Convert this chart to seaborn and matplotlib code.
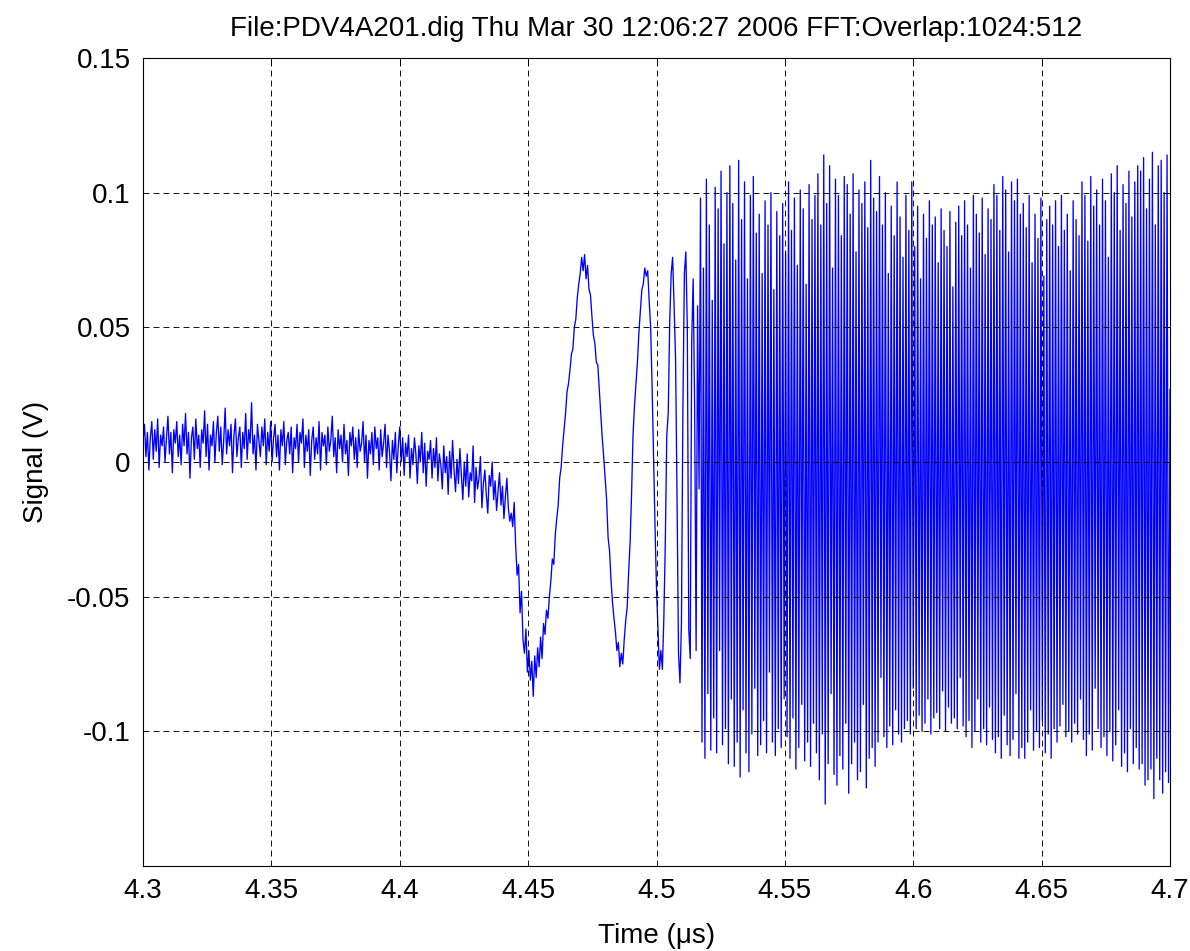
import numpy as np
import pandas as pd
import matplotlib
matplotlib.use("Agg")
import matplotlib.pyplot as plt
import seaborn as sns

# Digitizer record, values in millivolts, evenly sampled from 4.3 to 4.7 us
t_start, t_stop = 4.3, 4.7

# quiet baseline before the shock arrives
baseline_mv = [
    8, 14, 2, 11, -3, 9, 15, 1, 12, 4,
    16, -2, 10, 6, 13, 0, 9, 17, 3, 11,
    -4, 12, 7, 15, 2, 10, -1, 14, 6, 18,
    3, 11, -6, 9, 13, 1, 16, 5, 10, -2,
    12, 7, 19, 2, 14, -3, 10, 6, 15, 0,
    11, 17, 4, 13, -1, 8, 20, 3, 12, 6,
    14, -4, 10, 16, 2, 9, 13, -2, 11, 5,
    18, 1, 12, 7, 22, 3, 10, -3, 14, 8,
    2, 13, 6, 16, -1, 11, 4, 15, 0, 9,
    14, 2, 10, -3, 12, 6, 15, -1, 8, 11,
    3, 13, -4, 9, 5, 14, 0, 11, 7, 16,
    -2, 10, 4, 12, -5, 8, 13, 1, 9, 3,
    15, -3, 11, 6, 10, -1, 13, 4, 8, 17,
    2, 9, -4, 12, 5, 10, 0, 14, 3, 8,
    -5, 11, 6, 13, 1, 9, -2, 12, 4, 7,
    15, 0, 10, -6, 8, 3, 11, -1, 13, 5,
    9, -3, 12, 2, 7, 14, -2, 10, 4, -7,
    8, 1, 11, -4, 6, 13, 0, 9, -5, 7,
    2, 10, -6, 5, -1, 9, 3, -8, 6, 0,
    11, -4, 7, -9, 4, 1, 8, -6, 5, -2,
    9, -7, 3, -1, -10, 6, -4, 2, -12, 4,
    -6, 8, -3, -11, 1, -8, 5, -5, -14, 0,
    -9, 3, -13, -4, -7, 6, -15, -2, -10, -6,
    2, -17, -8, -3, -12, -19, -5, -9, 0, -14,
    -7, -18, -11, -4, -16, -9, -21, -13, -6, -17,
    -22,
]

# first slow fringes after breakout
onset_mv = [
    -19, -24, -15, -31, -42, -38, -56, -48, -66, -71,
    -62, -78, -70, -81, -74, -87, -72, -80, -69, -76,
    -65, -73, -60, -64, -55, -58, -50, -44, -36, -38,
    -27, -21, -16, -6, -2, 6, 12, 18, 26, 29,
    34, 40, 42, 50, 53, 61, 66, 70, 76, 71,
    77, 68, 73, 64, 62, 54, 47, 44, 37, 36,
    27, 18, 9, 2, -6, -14, -28, -33, -44, -52,
    -58, -63, -70, -67, -76, -71, -75, -66, -59, -54,
    -41, -30, -12, 10, 21, 29, 37, 48, 56, 64,
    66, 72, 69, 71, 60, 50, 28, 2, -24, -47,
    -62, -77, -70, -77, -58, -30, 10, 18, 52, 70,
    76, 58, 38, -13, -71, -82, -60, 20, 70, 78,
    50, -62, -73, 45, 68, 20, -70, 58, -10,
]

# fast beat signal once the surface is moving (high / low sample pairs)
beat_mv = [
    98, -104, 72, -110, 105, -86, 88, -107, 60, -95, 102, -108, 94, -70, 108, -105, 81, -99, 100, -112,
    110, -88, 96, -113, 75, -104, 112, -117, 90, -92, 104, -108, 68, -115, 99, -101, 106, -84, 85, -109,
    92, -105, 70, -96, 97, -108, 88, -78, 100, -104, 64, -109, 93, -99, 84, -106, 96, -88, 78, -102,
    104, -110, 86, -95, 98, -114, 73, -106, 101, -90, 94, -111, 66, -104, 103, -113, 90, -97, 99, -108,
    107, -118, 88, -101, 114, -127, 96, -112, 110, -86, 72, -116, 105, -120, 99, -109, 84, -114, 106, -97,
    103, -123, 92, -112, 107, -104, 78, -118, 101, -115, 96, -90, 104, -121, 87, -110, 112, -106, 98, -113,
    93, -104, 106, -80, 88, -102, 100, -106, 70, -98, 95, -105, 84, -92, 104, -101, 91, -104, 76, -99,
    99, -96, 86, -101, 104, -84, 80, -99, 95, -94, 68, -100, 92, -97, 83, -88, 97, -101, 88, -95,
    91, -93, 74, -99, 94, -85, 86, -100, 80, -91, 93, -97, 65, -95, 89, -99, 95, -80, 84, -98,
    97, -102, 88, -96, 72, -106, 99, -100, 92, -88, 85, -104, 98, -99, 77, -105, 94, -91, 90, -103,
    103, -108, 99, -102, 86, -110, 106, -94, 101, -105, 78, -109, 104, -103, 97, -86, 105, -110, 92, -106,
    96, -110, 87, -104, 99, -92, 74, -107, 92, -100, 83, -106, 98, -96, 69, -108, 90, -101, 95, -110,
    88, -99, 97, -104, 80, -98, 99, -90, 86, -102, 92, -100, 71, -104, 97, -97, 90, -101, 84, -88,
    104, -103, 99, -109, 82, -101, 106, -107, 95, -84, 101, -99, 88, -106, 105, -102, 97, -109, 76, -100,
    107, -111, 100, -105, 110, -92, 86, -113, 103, -108, 96, -115, 108, -99, 91, -112, 104, -106, 110, -114,
    108, -112, 113, -120, 94, -118, 105, -114, 115, -125, 88, -110, 110, -118, 112, -123, 100, -115, 114, -119,
    27,
]

x_ticks = [4.3, 4.35, 4.4, 4.45, 4.5, 4.55, 4.6, 4.65, 4.7]
y_ticks = [-0.1, -0.05, 0, 0.05, 0.1, 0.15]
title_text = "File:PDV4A201.dig Thu Mar 30 12:06:27 2006 FFT:Overlap:1024:512"

signal_v = np.array(baseline_mv + onset_mv + beat_mv, dtype=float) / 1000.0
time_us = np.linspace(t_start, t_stop, len(signal_v))
trace = pd.DataFrame({"time": time_us, "signal": signal_v})

sns.set_theme(style="white")
plt.rcParams["font.family"] = ["Liberation Sans", "DejaVu Sans"]
plt.rcParams["lines.scale_dashes"] = False

fig = plt.figure(figsize=(11.9, 9.51), dpi=100)
ax = fig.add_axes([143 / 1190, 1 - 866 / 951, (1170 - 143) / 1190, (866 - 58) / 951])

sns.lineplot(data=trace, x="time", y="signal", ax=ax, color="#0000ff",
             linewidth=0.95, estimator=None, sort=False)

ax.set_xlim(t_start, t_stop)
ax.set_ylim(-0.15, 0.15)
ax.set_xticks(x_ticks)
ax.set_xticklabels([f"{v:g}" for v in x_ticks])
ax.set_yticks(y_ticks)
ax.set_yticklabels([f"{v:g}" for v in y_ticks])

ax.set_axisbelow(False)
ax.grid(True, color="black", linestyle=(0, (4.3, 2.9)), linewidth=0.65)
ax.tick_params(direction="in", length=5, width=0.7, top=True, right=True,
               labelsize=20, colors="black", pad=9)
for side in ax.spines.values():
    side.set_color("black")
    side.set_linewidth(0.8)

ax.set_title(title_text, fontsize=20, pad=16, color="black")
ax.set_xlabel("Time (\u03bcs)", fontsize=20, labelpad=13, color="black")
ax.set_ylabel("Signal (V)", fontsize=20, labelpad=13, color="black")

fig.savefig("out.png", dpi=100, facecolor="white")
